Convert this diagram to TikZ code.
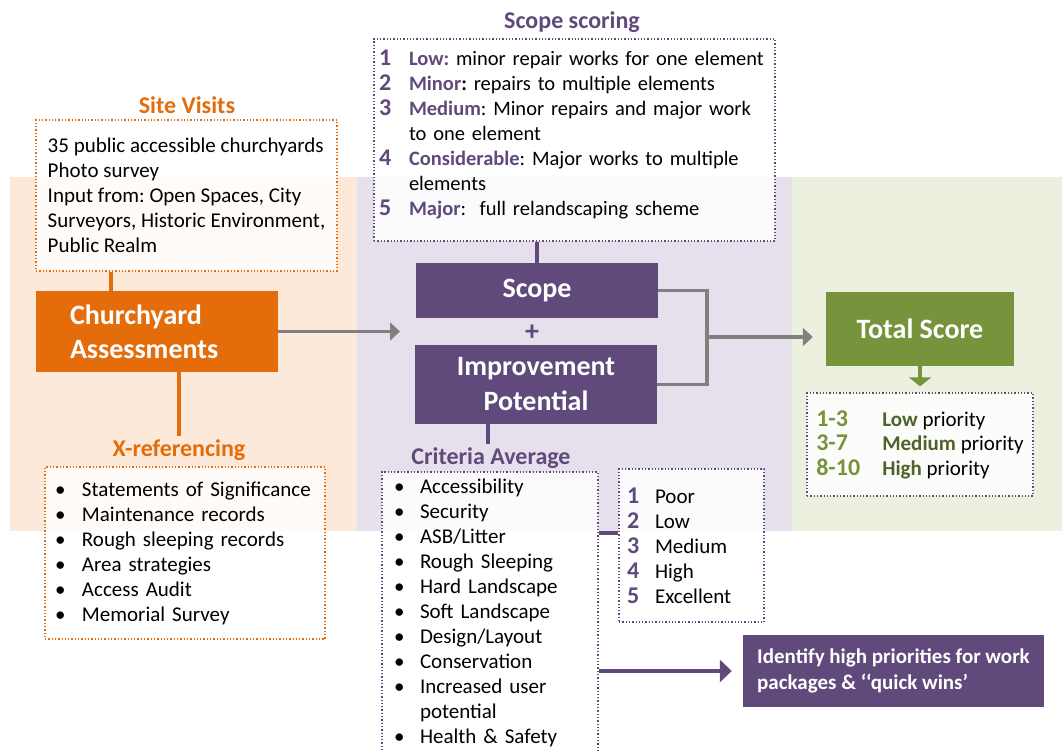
\documentclass[tikz,border=0pt]{standalone}
\usepackage{fontspec}
\setmainfont{Carlito}
\usetikzlibrary{arrows.meta}
\frenchspacing

\definecolor{churchorange}{HTML}{E46C0A}
\definecolor{scopepurple}{HTML}{604A7B}
\definecolor{totalgreen}{HTML}{77933C}
\definecolor{darkgreen}{HTML}{4F6228}
\definecolor{linegray}{HTML}{808080}
\definecolor{orangeband}{HTML}{FDE9D9}
\definecolor{purpleband}{HTML}{E5E0EC}
\definecolor{greenband}{HTML}{EBF1DE}

\newcommand{\scorenum}[2]{\makebox[#1][l]{\fontsize{24}{25}\selectfont\bfseries\color{scopepurple}#2}}
\newcommand{\prionum}[1]{\makebox[66pt][l]{\fontsize{24}{25}\selectfont\bfseries\color{totalgreen}#1}}
\newcommand{\listbullet}[1]{\makebox[#1][l]{\textbullet}}

\begin{document}
\begin{tikzpicture}[x=1pt, y=-1pt,
    bodyfont/.style={font=\fontsize{21}{25}\selectfont},
    titlefont/.style={font=\fontsize{24}{28}\selectfont\bfseries},
    blockfont/.style={font=\fontsize{28}{35}\selectfont\bfseries},
    notebox/.style={draw=#1, dotted, line width=1.3pt, fill=white, fill opacity=0.85,
      text opacity=1, align=left, inner ysep=0pt, bodyfont},
    block/.style={fill=#1, text=white, inner ysep=0pt, blockfont},
    link/.style={draw=#1, line width=3.5pt},
    flow/.style={draw=#1, line width=3.5pt, -{Triangle[length=10pt,width=18pt]}}]
  \useasboundingbox (0,0) rectangle (1062,750);

  \fill[orangeband] (10,177) rectangle (357,531);
  \fill[purpleband] (357,177) rectangle (792,531);
  \fill[greenband] (792,177) rectangle (1062,531);

  \node[titlefont, text=churchorange] (sitetitle) at (187,105) {Site Visits};
  \node[notebox=churchorange, minimum width=301pt, minimum height=151pt] (sitebox) at (186.5,195.5)
    {35 public accessible churchyards\\Photo survey\\Input from: Open Spaces, City\\
     Surveyors, Historic Environment,\\Public Realm};
  \node[block=churchorange, minimum width=242pt, minimum height=81pt, text width=174pt,
    inner xsep=34pt, align=left, font=\fontsize{28}{34}\selectfont\bfseries] (churchyard) at (157,331.5)
    {Churchyard\\Assessments};
  \node[titlefont, text=churchorange] (xreftitle) at (179,450) {X-referencing};
  \node[notebox=churchorange, minimum width=280pt, minimum height=172pt, text width=260pt,
    inner xsep=10pt] (xrefbox) at (185,553)
    {\listbullet{27pt}Statements of Significance\\
     \listbullet{27pt}Maintenance records\\
     \listbullet{27pt}Rough sleeping records\\
     \listbullet{27pt}Area strategies\\
     \listbullet{27pt}Access Audit\\
     \listbullet{27pt}Memorial Survey};

  \draw[link=churchorange] ([xshift=-46pt]churchyard.north) -- ([xshift=-46pt]churchyard.north |- sitebox.south);
  \draw[link=churchorange] (xreftitle.north |- churchyard.south) -- (xreftitle.north);
  \coordinate (scopein) at (400,331.5);
  \draw[flow=linegray] (churchyard.east) -- (scopein);

  \node[titlefont, text=scopepurple] (scoretitle) at (572,22) {Scope scoring};
  \node[notebox=scopepurple, minimum width=401pt, minimum height=202pt, text width=391pt,
    inner xsep=5pt, font=\fontsize{20.5}{25}\selectfont] (scorebox) at (574.5,140)
    {\scorenum{30pt}{1}\textcolor{scopepurple}{\textbf{Low:}} minor repair works for one element\\
     \scorenum{30pt}{2}\textcolor{scopepurple}{\textbf{Minor}}\textbf{:} repairs to multiple elements\\
     \scorenum{30pt}{3}\textcolor{scopepurple}{\textbf{Medium}}: Minor repairs and major work\\
     \hspace*{30pt}to one element\\
     \scorenum{30pt}{4}\textcolor{scopepurple}{\textbf{Considerable}}: Major works to multiple\\
     \hspace*{30pt}elements\\
     \scorenum{30pt}{5}\textcolor{scopepurple}{\textbf{Major}}:\ \ full relandscaping scheme\rule[-15pt]{0pt}{15pt}};

  \node[block=scopepurple, minimum width=242pt, minimum height=55pt] (scope) at (537,290.5) {Scope};
  \node[blockfont, text=scopepurple] (plus) at (532,333) {+};
  \node[block=scopepurple, minimum width=242pt, minimum height=79pt, align=center] (improve) at (536,384.5)
    {Improvement\\Potential};
  \draw[link=scopepurple] (scope.north) -- (scope.north |- scorebox.south);

  \node[titlefont, text=scopepurple] (crittitle) at (491,458) {Criteria Average};
  \draw[link=scopepurple] ([xshift=-48pt]improve.south) -- ([xshift=-48pt]improve.south |- crittitle.north);
  \node[notebox=scopepurple, minimum width=216pt, minimum height=281pt, text width=192pt,
    inner xsep=12pt] (critbox) at (490,612.5)
    {\listbullet{26pt}Accessibility\\
     \listbullet{26pt}Security\\
     \listbullet{26pt}ASB/Litter\\
     \listbullet{26pt}Rough Sleeping\\
     \listbullet{26pt}Hard Landscape\\
     \listbullet{26pt}Soft Landscape\\
     \listbullet{26pt}Design/Layout\\
     \listbullet{26pt}Conservation\\
     \listbullet{26pt}Increased user\\
     \hspace*{26pt}potential\\
     \listbullet{26pt}Health \& Safety};
  \node[notebox=scopepurple, minimum width=145pt, minimum height=153pt, text width=129pt,
    inner xsep=8pt] (ratebox) at (691.5,545.5)
    {\scorenum{28pt}{1}Poor\\
     \scorenum{28pt}{2}Low\\
     \scorenum{28pt}{3}Medium\\
     \scorenum{28pt}{4}High\\
     \scorenum{28pt}{5}Excellent};
  \draw[link=scopepurple] ([yshift=12.5pt]ratebox.west) -- ([yshift=12.5pt]ratebox.west -| critbox.east);

  \node[block=scopepurple, minimum width=301pt, minimum height=72pt, align=left,
    font=\fontsize{21}{26}\selectfont\bfseries] (identify) at (893.5,671)
    {Identify high priorities for work\\packages \& ‘‘quick wins’};
  \draw[flow=scopepurple, -{Triangle[length=12pt,width=22pt]}] (identify.west -| critbox.east) -- ([xshift=-11pt]identify.west);

  \node[block=totalgreen, minimum width=188pt, minimum height=74pt] (total) at (920,329) {Total Score};
  \coordinate (merge) at (707,337);
  \draw[link=linegray] (scope.east) -| (merge) |- (improve.east);
  \draw[flow=linegray, shorten >=13pt] (merge) -- (merge -| total.west);

  \node[notebox=scopepurple, minimum width=226pt, minimum height=103pt, inner xsep=9pt,
    font=\fontsize{21}{24.5}\selectfont] (priobox) at (920,444.5)
    {\prionum{1-3}\textcolor{darkgreen}{\textbf{Low}} priority\\
     \prionum{3-7}\textcolor{darkgreen}{\textbf{Medium}} priority\\
     \prionum{8-10}\textcolor{darkgreen}{\textbf{High}} priority};
  \draw[flow=totalgreen, line width=4.5pt, -{Triangle[length=9pt,width=22pt]}, shorten >=6pt]
    (total.south) -- (priobox.north);
\end{tikzpicture}
\end{document}
